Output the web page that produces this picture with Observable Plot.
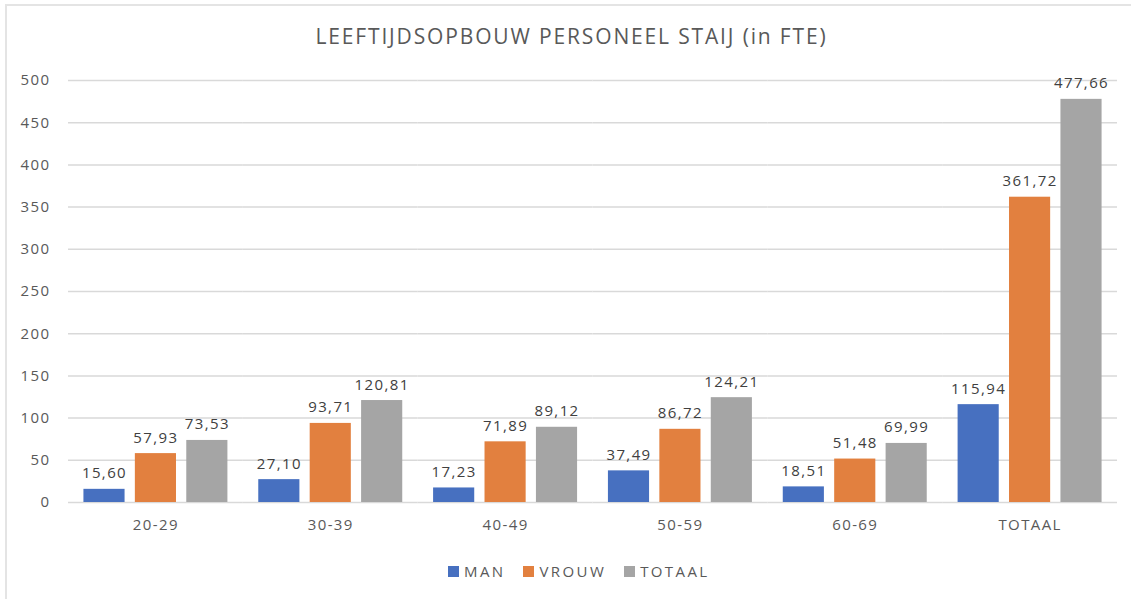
<!DOCTYPE html>
<html>
<head>
<meta charset="utf-8">
<script src="https://cdn.jsdelivr.net/npm/d3@7"></script>
<script src="https://cdn.jsdelivr.net/npm/@observablehq/plot@0.6"></script>
<style>
  html, body { margin: 0; padding: 0; background: #fff; }
  #wrap { position: relative; width: 1131px; height: 599px; overflow: hidden; font-family: "Open Sans", sans-serif; }
  #frame { position: absolute; left: 5px; top: 4px; width: 1200px; height: 700px; border-left: 2px solid #e4e4e4; border-top: 2px solid #e4e4e4; box-sizing: border-box; }
  #title { position: absolute; left: 0; width: 1143px; top: 22px; text-align: center; font-size: 21px; color: #595959; letter-spacing: 1.85px; }
  #chart { position: absolute; left: 0; top: 60px; }
  #chart svg text { letter-spacing: 1.4px; }
  #legend { position: absolute; left: 448px; top: 561px; display: flex; font-size: 15px; color: #595959; letter-spacing: 2.4px; white-space: nowrap; }
  #legend .item { display: flex; align-items: center; margin-right: 18px; }
  #legend .sw { width: 11px; height: 11px; display: inline-block; margin-right: 5px; }
</style>
</head>
<body>
<div id="wrap">
  <div id="frame"></div>
  <div id="title">LEEFTIJDSOPBOUW PERSONEEL STAIJ (in FTE)</div>
  <div id="chart"></div>
  <div id="legend"></div>
</div>
<script>
const categories = ["20-29", "30-39", "40-49", "50-59", "60-69", "TOTAAL"];
const series = ["MAN", "VROUW", "TOTAAL"];
const man = [15.60, 27.10, 17.23, 37.49, 18.51, 115.94];
const vrouw = [57.93, 93.71, 71.89, 86.72, 51.48, 361.72];
const totaal = [73.53, 120.81, 89.12, 124.21, 69.99, 477.66];
const yTicks = [0, 50, 100, 150, 200, 250, 300, 350, 400, 450, 500];
const colors = ["#4770C0", "#E2803F", "#A5A5A5"];

const seriesValues = [man, vrouw, totaal];
const data = categories.flatMap((c, i) =>
  series.map((s, j) => ({ cat: c, series: s, value: seriesValues[j][i] }))
);
const fmt = v => v.toFixed(2).replace(".", ",");

const chart = Plot.plot({
  width: 1131,
  height: 480,
  marginTop: 20,
  marginBottom: 38,
  marginLeft: 68,
  marginRight: 14,
  style: { fontFamily: "Open Sans, sans-serif", fontSize: "15px", color: "#595959", background: "transparent" },
  fx: { domain: categories, padding: 0, round: false, label: null },
  x: { domain: series, paddingInner: 0.2, paddingOuter: 0.3, round: false, axis: null },
  y: { domain: [0, 500], label: null },
  color: { domain: series, range: colors },
  marks: [
    Plot.gridY(yTicks, { stroke: "#d9d9d9", strokeOpacity: 1, strokeWidth: 1.5 }),
    Plot.axisY(yTicks, { tickSize: 0, tickPadding: 18, label: null, fill: "#595959", fontSize: 15 }),
    Plot.axisFx({ anchor: "bottom", tickSize: 0, tickPadding: 17, label: null, fill: "#595959", fontSize: 15 }),
    Plot.barY(data, { fx: "cat", x: "series", y: "value", fill: "series" }),
    Plot.text(data, { fx: "cat", x: "series", y: "value", text: d => fmt(d.value), lineAnchor: "bottom", dy: -11, fill: "#404040", fontSize: 15 })
  ]
});
document.getElementById("chart").appendChild(chart);

const legend = document.getElementById("legend");
series.forEach((s, i) => {
  const item = document.createElement("div");
  item.className = "item";
  const sw = document.createElement("span");
  sw.className = "sw";
  sw.style.background = colors[i];
  const t = document.createElement("span");
  t.textContent = s;
  item.appendChild(sw);
  item.appendChild(t);
  legend.appendChild(item);
});
</script>
</body>
</html>
